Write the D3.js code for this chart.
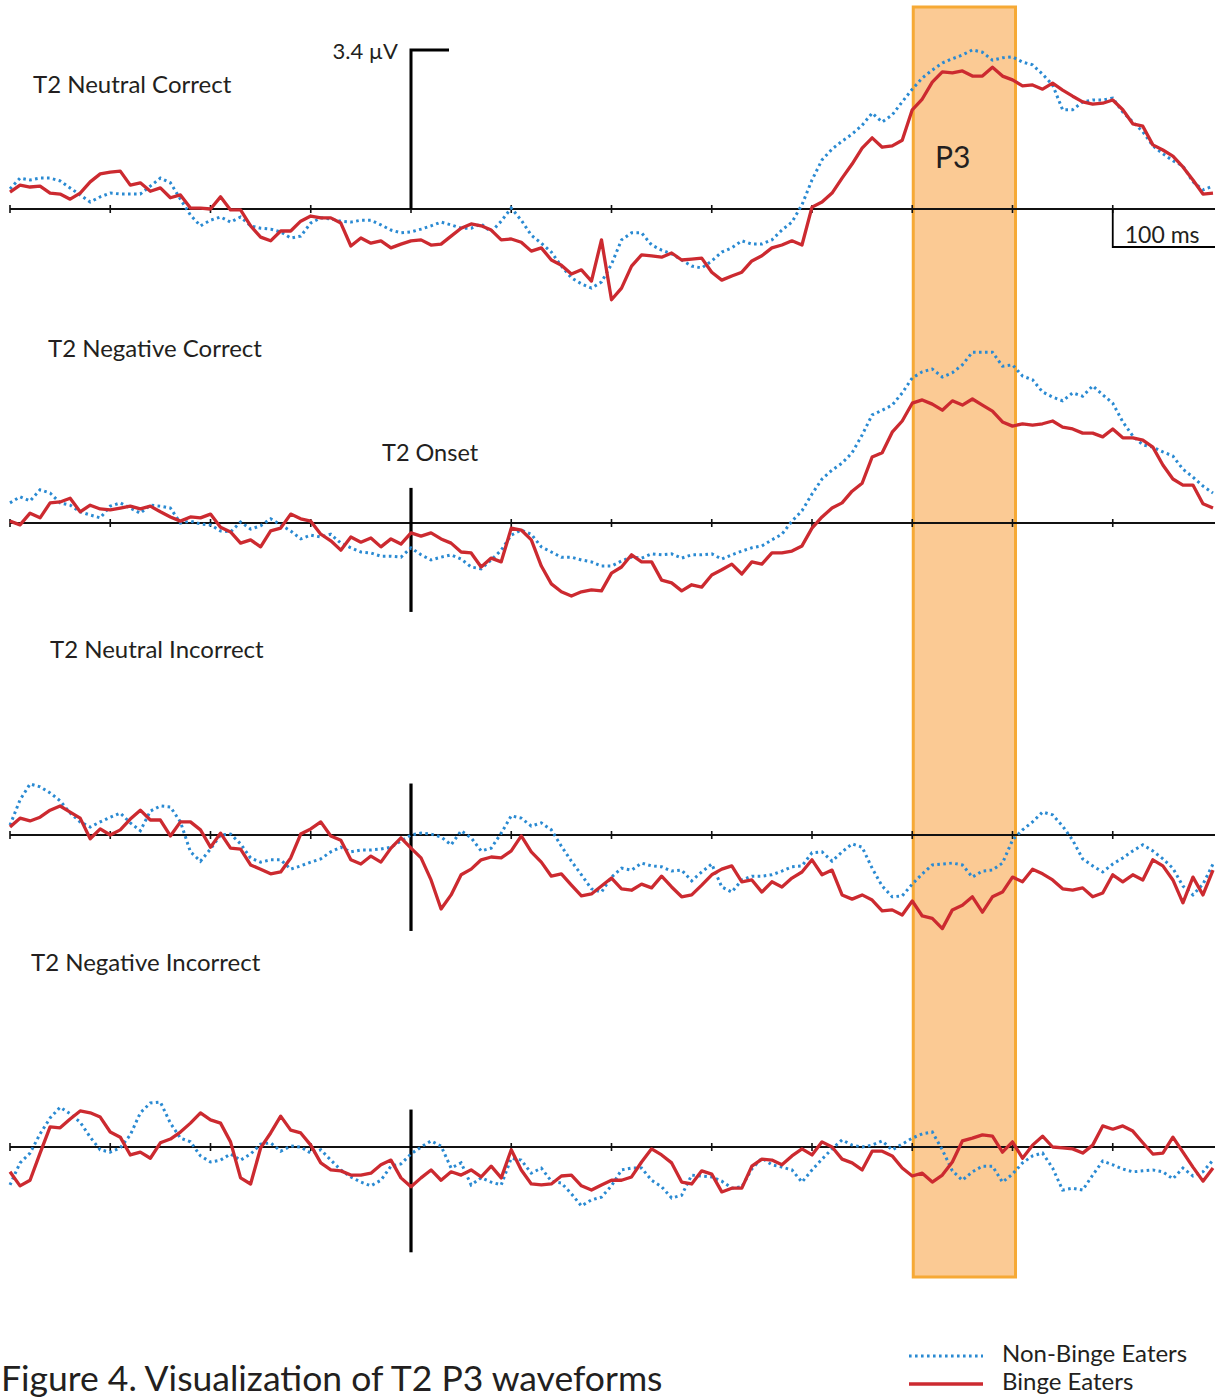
<!DOCTYPE html>
<html>
<head>
<meta charset="utf-8">
<script src="https://cdn.jsdelivr.net/npm/d3@7"></script>
<style>
  html, body { margin: 0; padding: 0; background: #fff; }
  svg { display: block; }
  text { font-family: Lato, "Open Sans", sans-serif; fill: #231f20; }
</style>
</head>
<body>
<svg id="chart" width="1220" height="1399"></svg>
<script>
// Sample times (ms relative to T2 onset), one value every 10 ms
const times = d3.range(-400, 801, 10);

// Grand-average amplitudes (µV) per condition and group
const nonBingeNeutralCorrect = [
  .43,.66,.62,.66,.66,.60,.45,.30,.15,.26,
  .34,.32,.32,.32,.49,.66,.56,.21,-.13,-.36,
  -.24,-.17,-.28,-.17,-.36,-.41,-.43,-.49,-.62,-.58,
  -.30,-.19,-.21,-.26,-.28,-.24,-.24,-.34,-.45,-.51,
  -.49,-.43,-.36,-.28,-.34,-.41,-.41,-.32,-.49,-.26,
  .02,-.24,-.56,-.73,-.92,-1.22,-1.47,-1.60,-1.69,-1.56,
  -1.18,-.66,-.51,-.51,-.77,-.88,-.96,-1.09,-1.22,-1.26,
  -1.11,-.92,-.83,-.68,-.75,-.75,-.66,-.45,-.28,.09,
  .62,1.05,1.28,1.45,1.60,1.79,2.05,1.86,2.01,2.29,
  2.56,2.80,2.97,3.12,3.21,3.29,3.40,3.35,3.18,3.23,
  3.25,3.14,3.08,2.88,2.65,2.12,2.12,2.29,2.33,2.33,
  2.37,2.07,1.86,1.65,1.35,1.18,1.03,.92,.58,.41,.49];
const bingeNeutralCorrect = [
  .36,.51,.47,.49,.34,.32,.21,.34,.58,.75,
  .79,.81,.51,.56,.38,.45,.24,.30,.02,.02,
  0,.26,-.02,-.02,-.36,-.60,-.68,-.47,-.47,-.26,
  -.15,-.19,-.19,-.30,-.79,-.62,-.73,-.68,-.83,-.75,
  -.68,-.66,-.77,-.75,-.58,-.41,-.32,-.36,-.45,-.66,
  -.64,-.71,-.90,-.83,-1.09,-1.20,-1.39,-1.30,-1.54,-.66,
  -1.94,-1.69,-1.22,-.98,-1.00,-1.03,-.94,-1.09,-1.07,-1.05,
  -1.35,-1.52,-1.43,-1.35,-1.11,-1.00,-.83,-.77,-.68,-.77,
  .04,.15,.34,.66,.96,1.30,1.52,1.32,1.35,1.47,
  2.12,2.35,2.71,2.93,2.91,2.95,2.84,2.84,3.03,2.84,
  2.76,2.63,2.65,2.56,2.69,2.54,2.41,2.29,2.24,2.26,
  2.33,2.12,1.82,1.77,1.37,1.26,1.13,.90,.62,.32,.34];

const nonBingeNegativeCorrect = [
  .43,.56,.47,.71,.64,.43,.38,.24,.17,.11,
  .36,.43,.32,.21,.38,.36,.32,0,.04,-.02,
  -.04,-.17,-.19,.02,-.13,-.06,.09,-.04,-.17,-.34,
  -.26,-.30,-.24,-.43,-.53,-.62,-.64,-.71,-.71,-.73,
  -.53,-.68,-.79,-.73,-.68,-.77,-.94,-.98,-.79,-.58,
  -.26,-.15,-.24,-.51,-.62,-.73,-.73,-.79,-.83,-.92,
  -.92,-.81,-.73,-.75,-.66,-.68,-.66,-.75,-.68,-.68,
  -.66,-.77,-.68,-.60,-.53,-.49,-.36,-.24,.04,.26,
  .62,.94,1.13,1.28,1.50,1.88,2.31,2.41,2.52,2.78,
  3.10,3.23,3.29,3.12,3.21,3.38,3.65,3.65,3.65,3.35,
  3.38,3.14,3.06,2.80,2.69,2.61,2.78,2.71,2.93,2.74,
  2.56,2.16,1.86,1.67,1.62,1.52,1.43,1.15,.98,.79,.64];
const bingeNegativeCorrect = [
  .04,-.04,.21,.11,.43,.45,.53,.24,.38,.30,
  .28,.32,.36,.30,.36,.24,.13,.04,.13,.11,
  .19,-.09,-.19,-.43,-.36,-.51,-.17,-.11,.19,.09,
  .04,-.24,-.38,-.58,-.30,-.41,-.32,-.51,-.34,-.45,
  -.21,-.28,-.21,-.34,-.43,-.62,-.64,-.94,-.75,-.83,
  -.11,-.15,-.36,-.92,-1.30,-1.47,-1.56,-1.47,-1.43,-1.45,
  -1.07,-.94,-.68,-.83,-.83,-1.22,-1.28,-1.45,-1.32,-1.37,
  -1.11,-1.00,-.88,-1.09,-.83,-.88,-.64,-.64,-.60,-.49,
  -.11,.13,.32,.43,.68,.85,1.41,1.50,1.94,2.18,
  2.56,2.63,2.54,2.41,2.61,2.52,2.65,2.52,2.39,2.16,
  2.07,2.12,2.09,2.12,2.18,2.05,2.01,1.92,1.92,1.84,
  2.01,1.82,1.82,1.77,1.62,1.24,.94,.81,.81,.41,.32];

const nonBingeNeutralIncorrect = [
  .21,.75,1.09,1.03,.90,.73,.47,.28,.17,.28,
  .38,.47,.26,.09,.51,.62,.60,.28,-.36,-.56,
  -.30,0,.02,-.19,-.49,-.58,-.53,-.53,-.73,-.66,
  -.58,-.51,-.36,-.26,-.36,-.32,-.32,-.30,-.26,-.13,
  0,.04,.02,-.04,-.21,.09,-.06,-.34,-.28,.04,
  .41,.36,.19,.26,.11,-.24,-.56,-.85,-1.15,-1.22,
  -.90,-.71,-.75,-.60,-.66,-.68,-.77,-.75,-.98,-.79,
  -.62,-1.11,-1.22,-.96,-.88,-.88,-.85,-.77,-.68,-.66,
  -.38,-.36,-.56,-.36,-.19,-.26,-.71,-1.09,-1.32,-1.30,
  -1.05,-.83,-.64,-.62,-.60,-.64,-.90,-.77,-.75,-.60,
  -.11,.11,.28,.49,.43,.19,-.11,-.51,-.66,-.79,
  -.62,-.49,-.34,-.21,-.34,-.51,-.71,-1.09,-1.28,-1.05,-.62];
const bingeNeutralIncorrect = [
  .17,.36,.30,.38,.53,.62,.49,.36,-.08,.13,
  0,.11,.34,.53,.32,.32,-.02,.28,.28,.11,
  -.26,.04,-.28,-.30,-.64,-.73,-.83,-.79,-.49,.02,
  .13,.28,-.02,-.11,-.53,-.62,-.45,-.58,-.28,-.06,
  -.28,-.49,-.96,-1.58,-1.28,-.85,-.73,-.53,-.47,-.49,
  -.34,-.02,-.36,-.58,-.88,-.83,-1.07,-1.30,-1.26,-1.09,
  -.92,-1.15,-1.18,-1.05,-1.13,-.88,-1.11,-1.32,-1.28,-1.07,
  -.85,-.73,-.66,-1.00,-.96,-1.22,-1.00,-1.11,-.92,-.79,
  -.53,-.85,-.75,-1.28,-1.37,-1.28,-1.39,-1.62,-1.60,-1.71,
  -1.41,-1.73,-1.78,-2.00,-1.60,-1.50,-1.32,-1.65,-1.32,-1.22,
  -.90,-1.00,-.73,-.83,-.96,-1.15,-1.18,-1.13,-1.32,-1.24,
  -.85,-1.00,-.85,-.96,-.53,-.66,-.96,-1.45,-.90,-1.28,-.75];

const nonBingeNegativeIncorrect = [
  -.81,-.34,-.13,.28,.62,.85,.71,.53,.21,-.06,
  -.11,-.02,.26,.73,.94,.96,.51,.19,.11,-.19,
  -.32,-.28,-.15,-.28,-.15,.06,.09,-.09,.02,0,
  -.13,-.06,-.28,-.49,-.64,-.75,-.83,-.71,-.41,-.36,
  -.15,0,.13,.02,-.45,-.34,-.81,-.66,-.75,-.81,
  -.24,-.28,-.56,-.45,-.73,-.77,-1.00,-1.26,-1.13,-1.07,
  -.83,-.49,-.45,-.45,-.71,-.85,-1.09,-1.03,-.60,-.62,
  -.64,-.73,-.88,-.85,-.47,-.24,-.38,-.43,-.49,-.75,
  -.49,-.26,-.04,.15,.04,0,.04,.13,-.06,.06,
  .19,.28,.32,-.06,-.51,-.71,-.53,-.41,-.41,-.75,
  -.58,-.34,-.19,-.13,-.45,-.92,-.88,-.92,-.60,-.30,
  -.38,-.47,-.53,-.51,-.49,-.53,-.68,-.45,-.62,-.53,-.28];
const bingeNegativeIncorrect = [
  -.53,-.83,-.71,-.13,.43,.41,.60,.77,.73,.64,
  .32,.21,-.17,-.11,-.24,.09,.17,.32,.51,.73,
  .58,.51,.11,-.66,-.79,-.02,.30,.66,.36,.30,
  .04,-.34,-.49,-.51,-.60,-.60,-.56,-.38,-.28,-.66,
  -.85,-.66,-.49,-.71,-.53,-.60,-.49,-.64,-.41,-.66,
  -.06,-.49,-.79,-.81,-.79,-.62,-.60,-.83,-.92,-.81,
  -.71,-.71,-.64,-.32,-.04,-.17,-.34,-.75,-.79,-.51,
  -.58,-.96,-.88,-.88,-.41,-.26,-.28,-.38,-.19,-.04,
  -.17,.11,0,-.26,-.34,-.49,-.09,-.09,-.19,-.45,
  -.62,-.56,-.75,-.60,-.32,.13,.19,.26,.23,-.11,
  .11,-.24,.04,.23,0,-.02,-.04,-.13,.04,.45,
  .38,.45,.34,.09,-.15,-.13,.21,-.11,-.43,-.73,-.45];

// Condition labels, in panel order
const conditions = ["T2 Neutral Correct", "T2 Negative Correct", "T2 Neutral Incorrect", "T2 Negative Incorrect"];
const groups = ["Non-Binge Eaters", "Binge Eaters"];
const nonBingeSeries = [nonBingeNeutralCorrect, nonBingeNegativeCorrect, nonBingeNeutralIncorrect, nonBingeNegativeIncorrect];
const bingeSeries = [bingeNeutralCorrect, bingeNegativeCorrect, bingeNeutralIncorrect, bingeNegativeIncorrect];

// Calibration and window values
const amplitudeScaleBar = 3.4;   // µV
const timeScaleBar = [700, 800]; // ms
const p3Window = [500, 600];      // ms
const tickTimes = d3.range(-400, 701, 100);

// ---- layout ----
const baselines = [209, 523, 835, 1147];
const pxPerMicrovolt = 46.8;
const labelPos = [[33, 93], [48, 357], [50, 658], [31, 971]];
// onset marker extent (µV above / below zero) for panels 2-4
const onsetExtent = [null, [0.75, -1.9], [1.1, -2.05], [0.8, -2.25]];

const colors = { binge: "#cc2a30", nonBinge: "#2a8ad2", box: "#fbca94", boxEdge: "#f6a935" };

const svg = d3.select("#chart");
const x = d3.scaleLinear().domain([-400, 800]).range([10, 1213]);
const yFor = base => d3.scaleLinear().domain([0, 1]).range([base, base - pxPerMicrovolt]);

// P3 measurement window (drawn behind everything)
svg.append("rect")
  .attr("x", x(p3Window[0]) + 1)
  .attr("y", 7)
  .attr("width", x(p3Window[1]) - x(p3Window[0]) + 2)
  .attr("height", 1270)
  .attr("fill", colors.box)
  .attr("stroke", colors.boxEdge)
  .attr("stroke-width", 3);

svg.append("text")
  .attr("x", 935).attr("y", 168)
  .attr("font-size", 30)
  .text("P3");

conditions.forEach((cond, i) => {
  const base = baselines[i];
  const y = yFor(base);
  const g = svg.append("g");

  // zero line with 100 ms ticks
  g.append("line")
    .attr("x1", x(-400)).attr("x2", 1215)
    .attr("y1", base).attr("y2", base)
    .attr("stroke", "#111").attr("stroke-width", 1.8);
  g.selectAll("line.tick").data(tickTimes).join("line")
    .attr("class", "tick")
    .attr("x1", d => x(d)).attr("x2", d => x(d))
    .attr("y1", base - 4).attr("y2", base + 4)
    .attr("stroke", "#111").attr("stroke-width", 1.6);

  // stimulus onset marker
  if (i === 0) {
    g.append("path")
      .attr("d", `M${x(0)},${y(0)}V${y(amplitudeScaleBar)}H${x(0) + 38}`)
      .attr("fill", "none").attr("stroke", "#000").attr("stroke-width", 3);
    g.append("text")
      .attr("x", 398).attr("y", y(amplitudeScaleBar) + 9)
      .attr("text-anchor", "end").attr("font-size", 22)
      .text(amplitudeScaleBar + " µV");
    g.append("path")
      .attr("d", `M${x(timeScaleBar[0])},${base}V${base + 38}H${x(timeScaleBar[1]) + 2}`)
      .attr("fill", "none").attr("stroke", "#000").attr("stroke-width", 1.8);
    g.append("text")
      .attr("x", x(timeScaleBar[0]) + 12).attr("y", base + 34)
      .attr("font-size", 23)
      .text(`${timeScaleBar[1] - timeScaleBar[0]} ms`);
  } else {
    g.append("line")
      .attr("x1", x(0)).attr("x2", x(0))
      .attr("y1", y(onsetExtent[i][0])).attr("y2", y(onsetExtent[i][1]))
      .attr("stroke", "#000").attr("stroke-width", 3.2);
  }

  const line = d3.line()
    .x((d, k) => x(times[k]))
    .y(d => y(d))
    .curve(d3.curveLinear);

  g.append("path")
    .datum(nonBingeSeries[i])
    .attr("d", line)
    .attr("fill", "none")
    .attr("stroke", colors.nonBinge)
    .attr("stroke-width", 3)
    .attr("stroke-dasharray", "2.6,3.4");

  g.append("path")
    .datum(bingeSeries[i])
    .attr("d", line)
    .attr("fill", "none")
    .attr("stroke", colors.binge)
    .attr("stroke-width", 3.3)
    .attr("stroke-linejoin", "round");

  svg.append("text")
    .attr("x", labelPos[i][0]).attr("y", labelPos[i][1])
    .attr("font-size", 24)
    .text(cond);
});

svg.append("text")
  .attr("x", 382).attr("y", 461)
  .attr("font-size", 23.5)
  .text("T2 Onset");

// legend
const legend = svg.append("g");
const legendRows = [
  { name: groups[0], color: colors.nonBinge, dash: "2.6,3.4", y: 1356, w: 3 },
  { name: groups[1], color: colors.binge, dash: null, y: 1384, w: 3.4 }
];
legendRows.forEach(r => {
  legend.append("line")
    .attr("x1", 909).attr("x2", 983)
    .attr("y1", r.y).attr("y2", r.y)
    .attr("stroke", r.color).attr("stroke-width", r.w)
    .attr("stroke-dasharray", r.dash);
  legend.append("text")
    .attr("x", 1002).attr("y", r.y + 6)
    .attr("font-size", 24)
    .text(r.name);
});

// caption
svg.append("text")
  .attr("x", 1).attr("y", 1391)
  .attr("font-size", 35.5)
  .text("Figure 4. Visualization of T2 P3 waveforms");
</script>
</body>
</html>
